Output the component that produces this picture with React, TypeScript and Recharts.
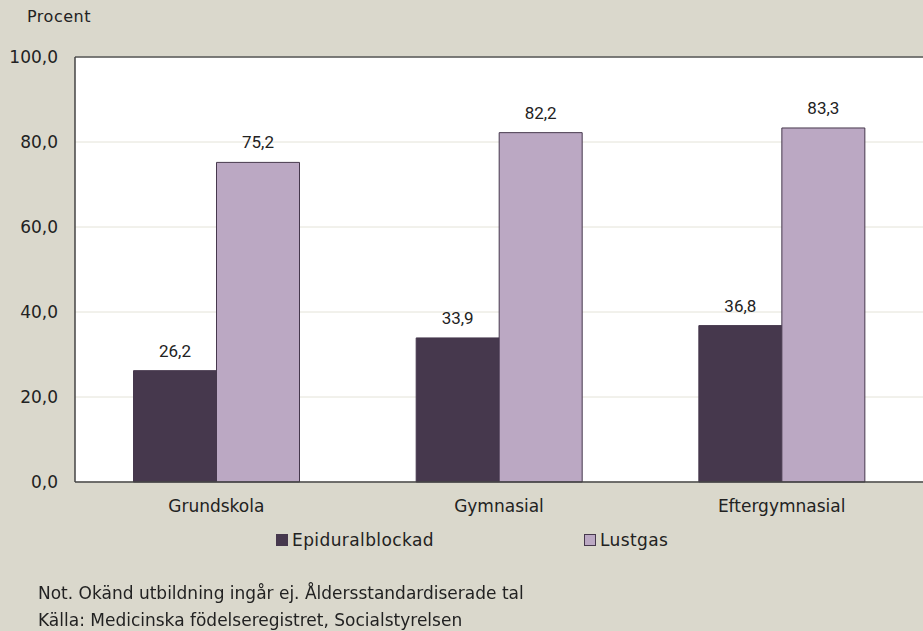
import { BarChart, Bar, XAxis, YAxis, CartesianGrid, Legend, LabelList, ReferenceLine } from 'recharts'

const utbildning = ['Grundskola', 'Gymnasial', 'Eftergymnasial']
const epidural = [26.2, 33.9, 36.8]
const lustgas = [75.2, 82.2, 83.3]
const yTicks = [0, 20, 40, 60, 80, 100]

const DARK = '#46384d'
const LIGHT = '#bba8c3'
const BG = '#dad8cc'
const FONT = '"DejaVu Sans", sans-serif'
const LABEL_FONT = 'Roboto, "Liberation Sans", sans-serif'

const data = utbildning.map((u, i) => ({
  name: u,
  Epiduralblockad: epidural[i],
  Lustgas: lustgas[i],
}))

// svensk decimalkomma
const fmt = (v: number) => v.toFixed(1).replace('.', ',')

function LegendContent() {
  const items = [
    { label: 'Epiduralblockad', color: DARK, x: 276 },
    { label: 'Lustgas', color: LIGHT, x: 584 },
  ]
  return (
    <div style={{ position: 'relative', height: 24 }}>
      {items.map(it => (
        <div
          key={it.label}
          style={{ position: 'absolute', left: it.x, top: 0, display: 'flex', alignItems: 'center', fontSize: 17, letterSpacing: 0.4, color: '#222', fontFamily: FONT }}
        >
          <span style={{ width: 10, height: 10, background: it.color, border: `1px solid ${DARK}`, marginRight: 4 }} />
          {it.label}
        </div>
      ))}
    </div>
  )
}

export default function App() {
  return (
    <div style={{ position: 'fixed', left: 0, top: 0, width: 923, height: 631, background: BG, fontFamily: FONT }}>
      <div style={{ position: 'absolute', left: 75, top: 57, width: 848, height: 425, background: '#fff' }} />
      <div style={{ position: 'absolute', left: 27, top: 7, fontSize: 16, letterSpacing: 0.5, color: '#222' }}>Procent</div>
      <BarChart
        width={923}
        height={631}
        data={data}
        margin={{ top: 57, right: 0, bottom: 95, left: 1 }}
        barCategoryGap="20.7%"
        barGap={0}
      >
        <CartesianGrid horizontal vertical={false} stroke="#e4e3d8" />
        <ReferenceLine y={100} stroke="#555" strokeWidth={1.5} />
        <XAxis
          dataKey="name"
          axisLine={{ stroke: '#444', strokeWidth: 1.5 }}
          tickLine={false}
          tick={{ fill: '#222', fontSize: 17, fontFamily: FONT }}
          tickMargin={12}
        />
        <YAxis
          width={74}
          domain={[0, 100]}
          ticks={yTicks}
          tickFormatter={fmt}
          axisLine={{ stroke: '#444', strokeWidth: 1.5 }}
          tickLine={false}
          tickSize={0}
          tickMargin={17}
          tick={{ fill: '#222', fontSize: 17, fontFamily: FONT }}
        />
        <Legend verticalAlign="bottom" wrapperStyle={{ top: 530, left: 0, width: 923 }} content={() => <LegendContent />} />
        <Bar dataKey="Epiduralblockad" fill={DARK} stroke={DARK} strokeWidth={1} isAnimationActive={false}>
          <LabelList dataKey="Epiduralblockad" position="top" offset={14} formatter={(v: any) => fmt(Number(v))} fill="#222" fontSize={17} fontFamily={LABEL_FONT} />
        </Bar>
        <Bar dataKey="Lustgas" fill={LIGHT} stroke={DARK} strokeWidth={1} isAnimationActive={false}>
          <LabelList dataKey="Lustgas" position="top" offset={14} formatter={(v: any) => fmt(Number(v))} fill="#222" fontSize={17} fontFamily={LABEL_FONT} />
        </Bar>
      </BarChart>
      <div style={{ position: 'absolute', left: 38, top: 580, fontSize: 17, color: '#222', lineHeight: '27px' }}>
        <div>Not. Okänd utbildning ingår ej. Åldersstandardiserade tal</div>
        <div>Källa: Medicinska födelseregistret, Socialstyrelsen</div>
      </div>
    </div>
  )
}
